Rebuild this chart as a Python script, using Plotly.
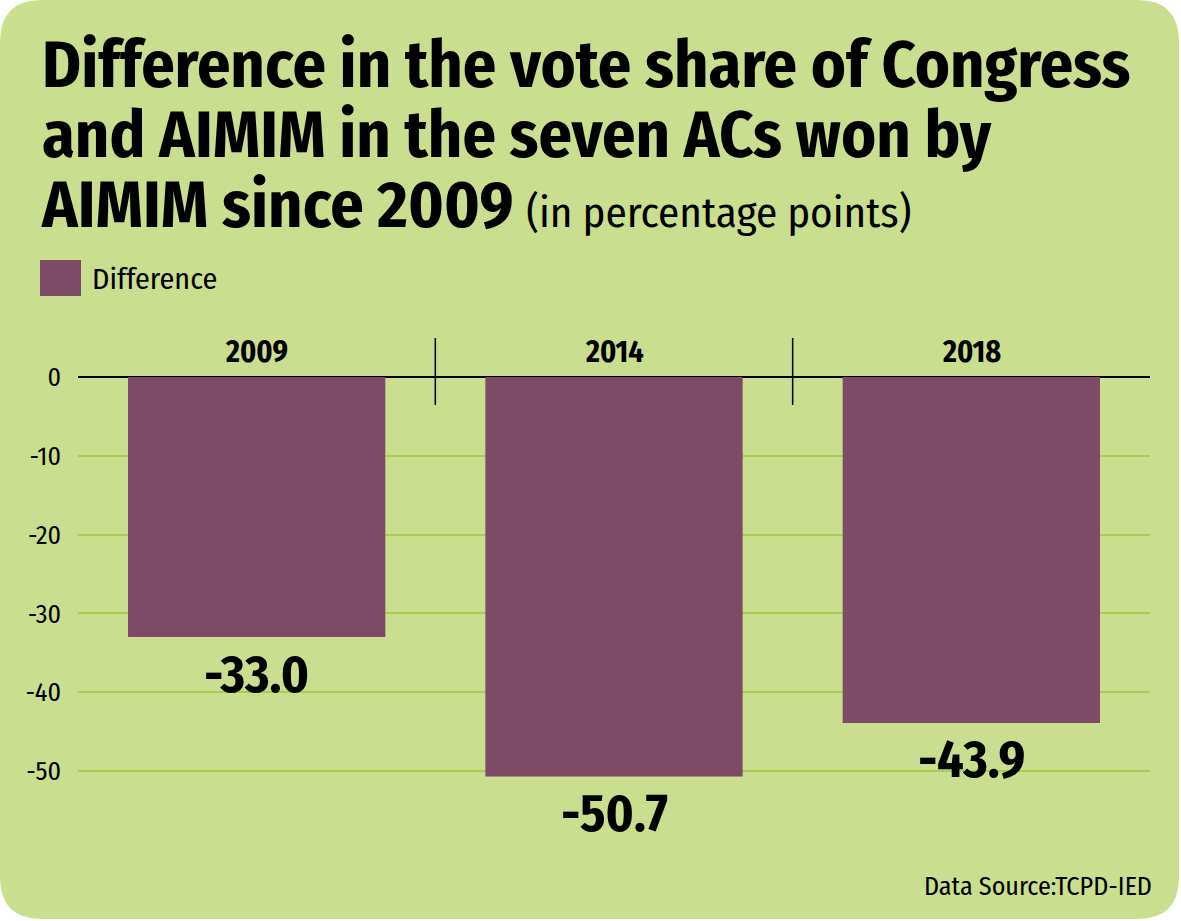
import plotly.graph_objects as go

# ---- data ----
years = ["2009", "2014", "2018"]
difference = [-33.0, -50.7, -43.9]
value_labels = ["-33.0", "-50.7", "-43.9"]
y_ticks = [0, -10, -20, -30, -40, -50]
y_tick_labels = ["0", "-10", "-20", "-30", "-40", "-50"]
series_name = "Difference"
title_lines = ["Difference in the vote share of Congress",
               "and AIMIM in the seven ACs won by",
               "AIMIM since 2009"]
title_sub = "(in percentage points)"
source_text = "Data Source:TCPD-IED"

# ---- style ----
W, H = 1181, 921
FONT = "Fira Sans Condensed, Roboto Condensed, sans-serif"
GREEN = "#c9de8f"
BAR = "#7d4b66"
GRID = "#a8d04e"

Y_MIN, Y_MAX = -57, 6
PX_PER_UNIT = 7.88
ZERO_PX = 377
TOP_PX = ZERO_PX - Y_MAX * PX_PER_UNIT
BOT_PX = ZERO_PX - Y_MIN * PX_PER_UNIT


def px(p):
    return p / W


def py(p):
    return 1 - p / H


def rounded_rect(x0, y0, x1, y1, r):
    X = lambda v: f"{px(v):.5f}"
    Y = lambda v: f"{py(v):.5f}"
    pts = [
        f"M {X(x0 + r)},{Y(y0)}",
        f"L {X(x1 - r)},{Y(y0)}",
        f"Q {X(x1)},{Y(y0)} {X(x1)},{Y(y0 + r)}",
        f"L {X(x1)},{Y(y1 - r)}",
        f"Q {X(x1)},{Y(y1)} {X(x1 - r)},{Y(y1)}",
        f"L {X(x0 + r)},{Y(y1)}",
        f"Q {X(x0)},{Y(y1)} {X(x0)},{Y(y1 - r)}",
        f"L {X(x0)},{Y(y0 + r)}",
        f"Q {X(x0)},{Y(y0)} {X(x0 + r)},{Y(y0)}",
        "Z",
    ]
    return " ".join(pts)


fig = go.Figure()
fig.add_trace(go.Bar(
    x=years, y=difference, name=series_name,
    marker=dict(color=BAR, line=dict(width=0)),
    width=0.72, showlegend=False, hoverinfo="x+y",
))

shapes = [
    dict(type="path", xref="paper", yref="paper", layer="below",
         path=rounded_rect(0, 0, 1179, 919, 42),
         fillcolor=GREEN, line=dict(width=0)),
    # legend swatch
    dict(type="rect", xref="paper", yref="paper",
         x0=px(40), x1=px(81), y0=py(296), y1=py(260),
         fillcolor=BAR, line=dict(width=0)),
]
# category separators
for i in range(len(years) - 1):
    shapes.append(dict(type="line", xref="x", yref="y",
                       x0=i + 0.5, x1=i + 0.5, y0=4.95, y1=-3.55,
                       line=dict(color="black", width=1.5)))

annotations = []
# title: one annotation; line spacing = 1.3 * base size (54 -> ~70px)
TITLE_PX = 66
parts = [f"<span style='font-size:{TITLE_PX}px'><b>{ln}</b></span>" for ln in title_lines]
parts[-1] += f" <span style='font-size:43px'>{title_sub}</span>"
annotations.append(dict(xref="paper", yref="paper", x=px(39), y=py(134),
                        xanchor="left", yanchor="middle", align="left", showarrow=False,
                        text="<br>".join(parts),
                        font=dict(family=FONT, size=54, color="black")))
# legend text
annotations.append(dict(xref="paper", yref="paper", x=px(90), y=py(279),
                        xanchor="left", yanchor="middle", showarrow=False,
                        text=series_name, font=dict(family=FONT, size=30, color="black")))
# category labels
for i, yr in enumerate(years):
    annotations.append(dict(xref="x", yref="y", x=i, y=(ZERO_PX - 352) / PX_PER_UNIT,
                            xanchor="center", yanchor="middle", showarrow=False,
                            text=f"<b>{yr}</b>", font=dict(family=FONT, size=30, color="black")))
# value labels
for i, (v, lab) in enumerate(zip(difference, value_labels)):
    annotations.append(dict(xref="x", yref="y", x=i, y=v, yshift=-37,
                            xanchor="center", yanchor="middle", showarrow=False,
                            text=f"<b>{lab}</b>", font=dict(family=FONT, size=52, color="black")))
# source
annotations.append(dict(xref="paper", yref="paper", x=px(1154), y=py(886),
                        xanchor="right", yanchor="middle", showarrow=False,
                        text=source_text, font=dict(family=FONT, size=26, color="black")))

fig.update_layout(
    width=W, height=H, autosize=False,
    margin=dict(l=0, r=0, t=0, b=0, pad=0),
    paper_bgcolor="white", plot_bgcolor="rgba(0,0,0,0)",
    shapes=shapes, annotations=annotations,
    xaxis=dict(type="category", domain=[px(78), px(1150)], range=[-0.5, 2.5],
               showticklabels=False, showgrid=False, zeroline=False, showline=False,
               ticks="", fixedrange=True),
    yaxis=dict(domain=[py(BOT_PX), py(TOP_PX)], range=[Y_MIN, Y_MAX],
               tickmode="array", tickvals=y_ticks, ticktext=y_tick_labels,
               showgrid=True, gridcolor=GRID, gridwidth=2,
               zeroline=True, zerolinecolor="black", zerolinewidth=2,
               showline=False, ticks="", ticklabelstandoff=16,
               tickfont=dict(family=FONT, size=26, color="black"), fixedrange=True),
    font=dict(family=FONT),
    showlegend=False,
)

fig.write_html("out.html")
